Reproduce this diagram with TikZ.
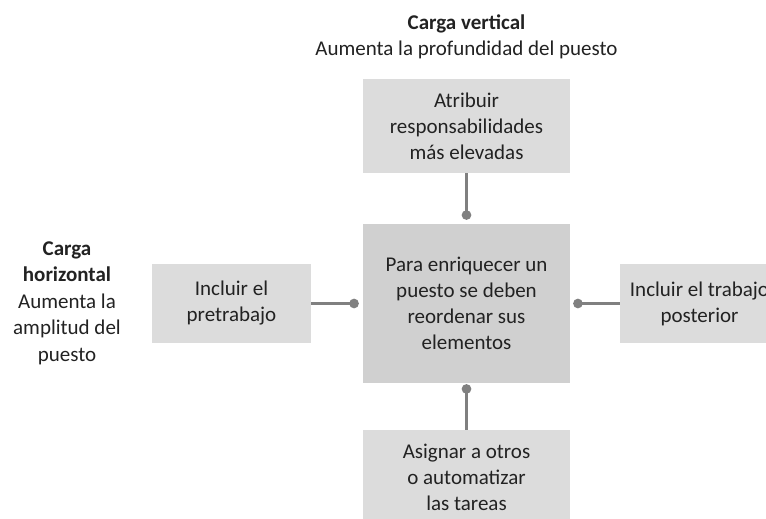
\documentclass[tikz,border=0pt]{standalone}
\usepackage{fontspec}
\setmainfont{Carlito}
\usetikzlibrary{arrows.meta}
\definecolor{boxgray}{HTML}{DCDCDC}
\definecolor{coregray}{HTML}{D0D0D0}
\definecolor{linkgray}{HTML}{808080}
\definecolor{inkgray}{HTML}{222222}

\begin{document}
\begin{tikzpicture}[x=1pt,y=-1pt,
  box/.style={fill=boxgray,text=inkgray,align=center,inner sep=0pt,font=\fontsize{21}{26}\selectfont},
  label/.style={text=inkgray,align=center,inner sep=0pt,font=\fontsize{21}{26.5}\selectfont},
  link/.style={draw=linkgray,line width=2.6pt,-{Circle[length=9.5pt,width=9.5pt]}}]
\path[use as bounding box] (0,0) rectangle (766,519);
\clip (0,0) rectangle (766,519);
% boxes
\node[box,fill=coregray,minimum width=207pt,minimum height=159pt] (core) at (466.5,303.5)
  {Para enriquecer un\\puesto se deben\\reordenar sus\\elementos};
\node[box,minimum width=207pt,minimum height=94pt] (resp) at (466.5,126)
  {Atribuir\\responsabilidades\\más elevadas};
\node[box,minimum width=159pt,minimum height=79pt] (pre) at (231.5,303.5)
  {Incluir el\\pretrabajo};
\node[box,minimum width=159pt,minimum height=79pt] (post) at (699.5,303.5)
  {Incluir el trabajo\\posterior};
\node[box,minimum width=207pt,minimum height=94pt] (tasks) at (466.5,477)
  {Asignar a otros\\o automatizar\\las tareas};
% headings
\node[label] (vert) at (466.5,37) {\textbf{Carga vertical}\\Aumenta la profundidad del puesto};
\node[label] (horiz) at (67,303) {\textbf{Carga}\\\textbf{horizontal}\\Aumenta la\\amplitud del\\puesto};
% connectors
\draw[link,shorten >=4pt] (resp) -- (core);
\draw[link,shorten >=4pt] (pre) -- (core);
\draw[link,shorten >=3pt] (post) -- (core);
\draw[link,shorten >=1pt] (tasks) -- (core);
\end{tikzpicture}
\end{document}
